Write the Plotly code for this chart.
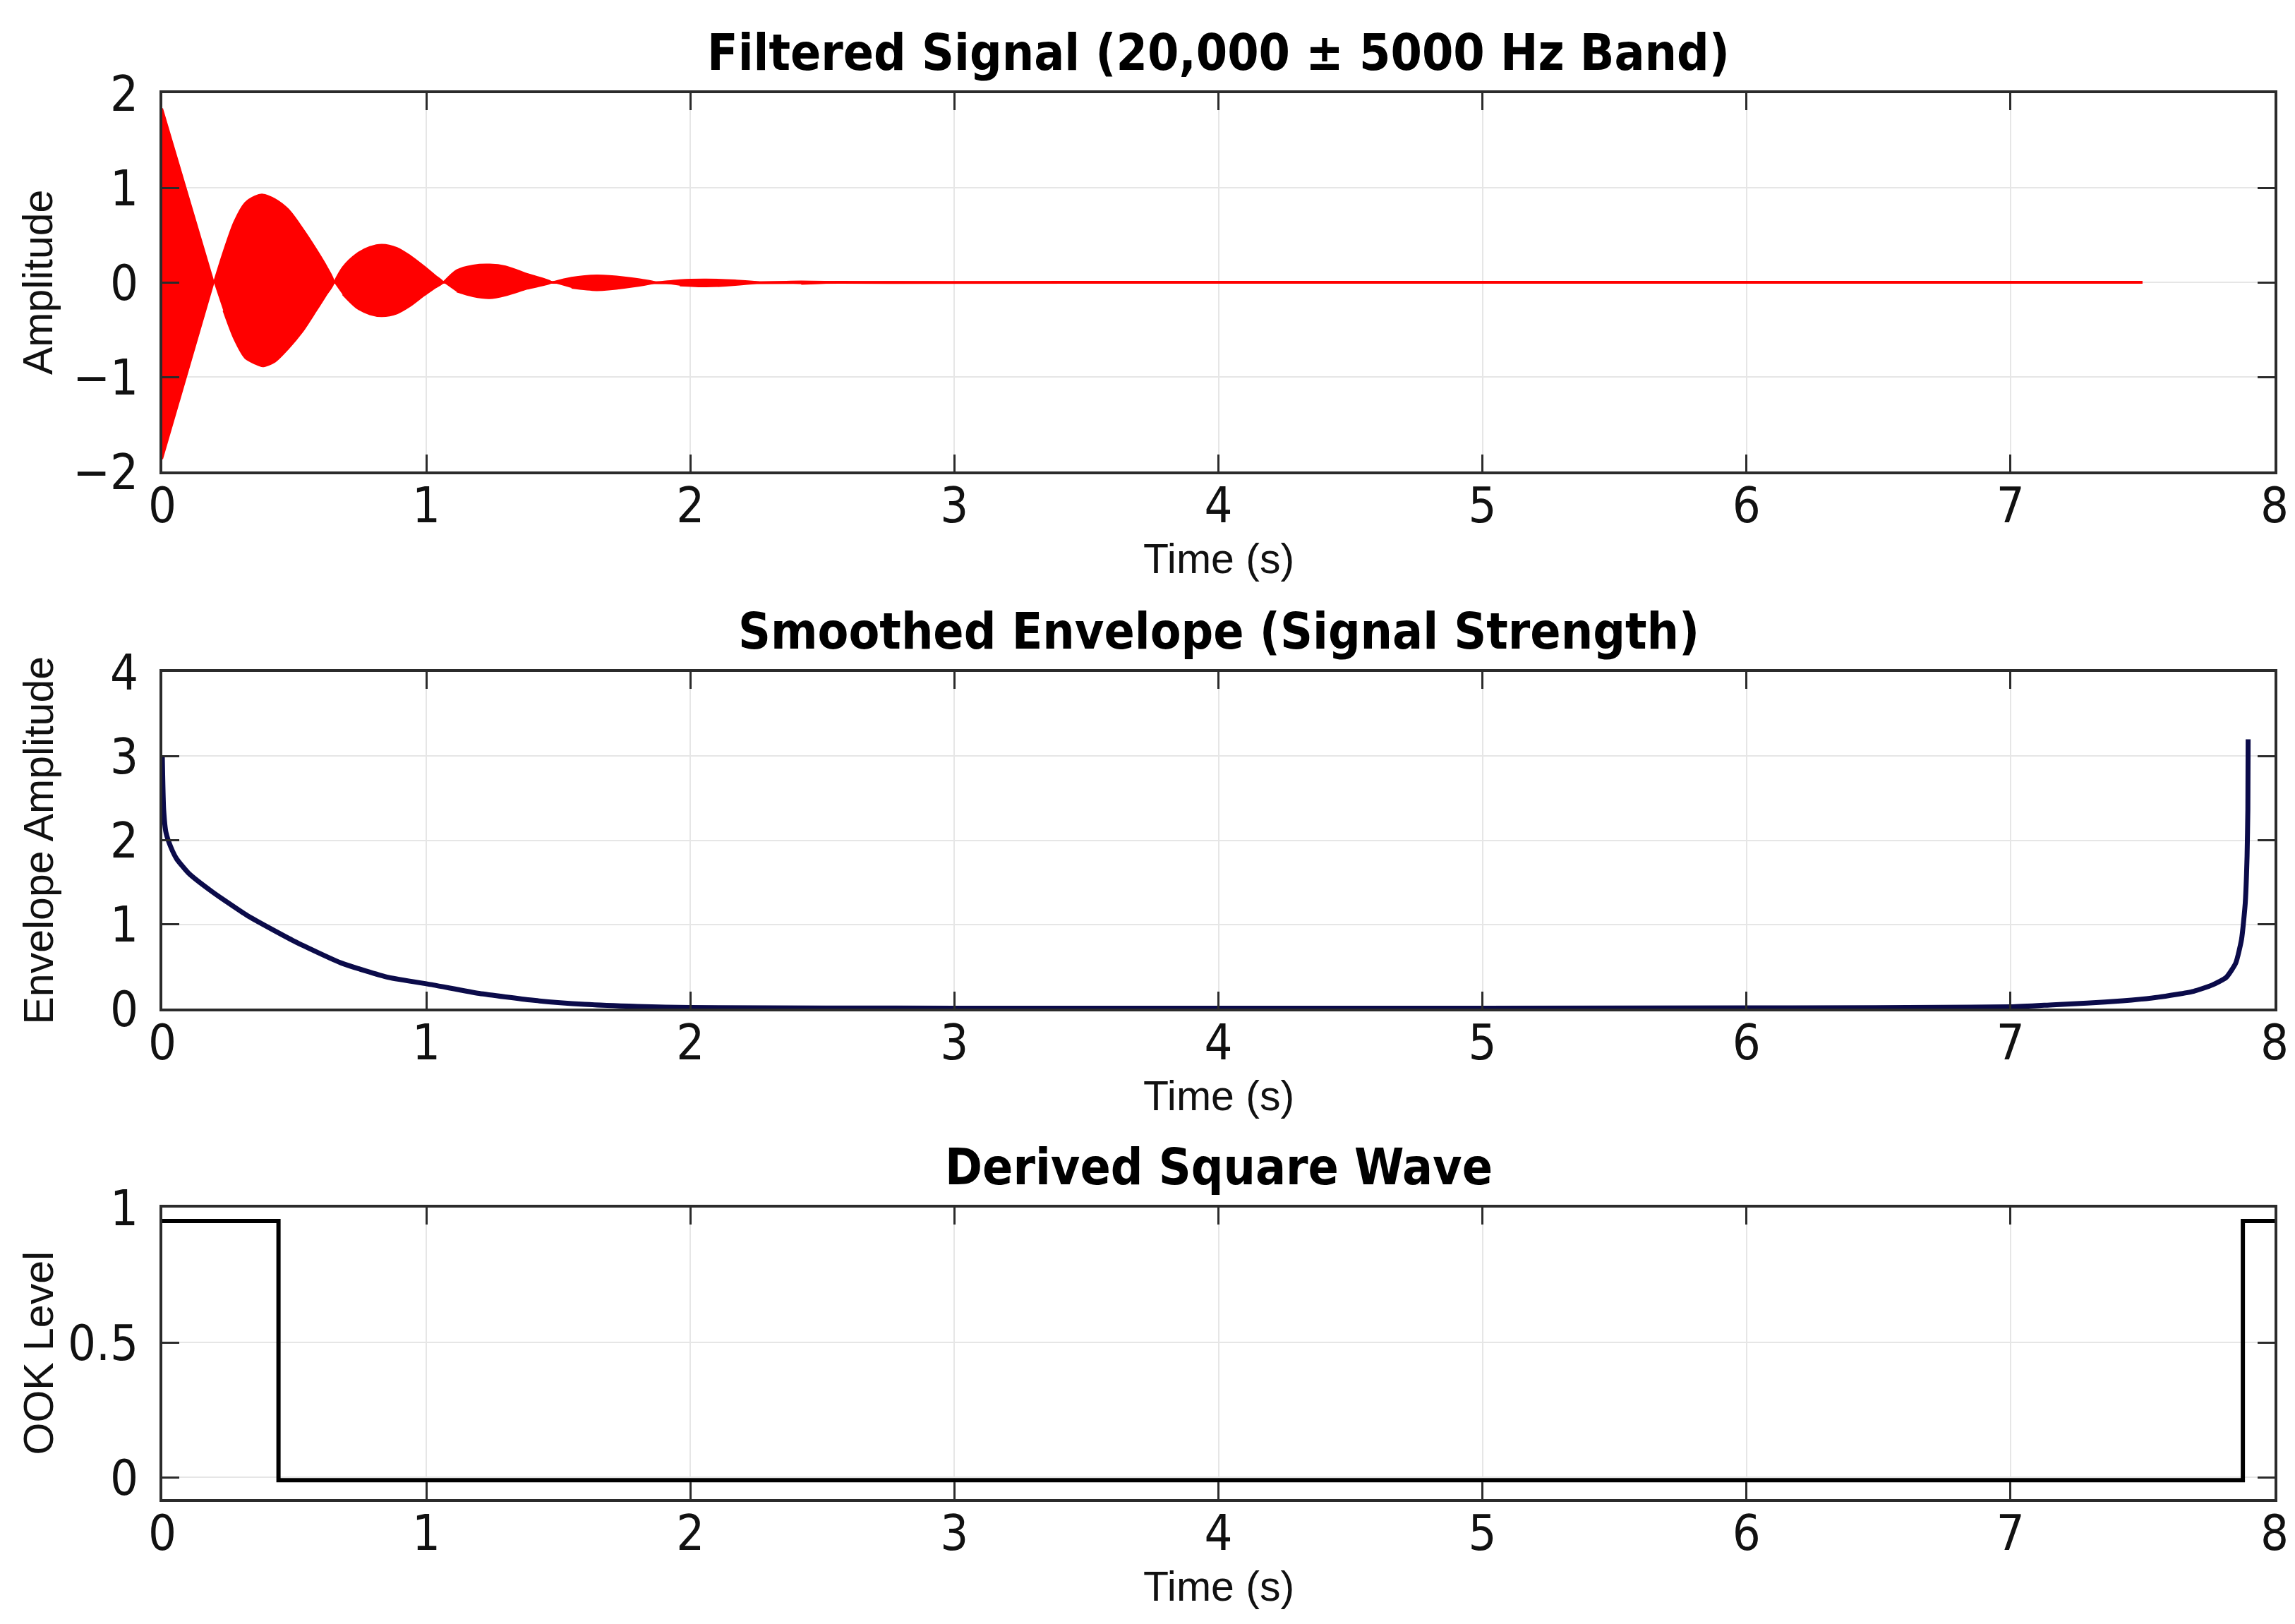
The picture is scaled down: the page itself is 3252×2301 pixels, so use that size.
import plotly.graph_objects as go

# filtered signal: beat envelope (upper / lower edge of the red band)
sig_t = [0, 0.195, 0.231, 0.272, 0.313, 0.35, 0.38, 0.427, 0.478, 0.529, 0.581, 0.622, 0.65,
         0.683, 0.735, 0.786, 0.832, 0.889, 0.94, 0.992, 1.033, 1.064,
         1.115, 1.177, 1.24, 1.30, 1.382, 1.475,
         1.55, 1.645, 1.75, 1.87, 1.96, 2.06, 2.17, 2.27, 2.42, 2.57, 2.75, 3.0,
         4.0, 5.0, 6.0, 7.0, 7.5]
sig_upper = [1.84, 0.0, 0.32, 0.64, 0.84, 0.91, 0.93, 0.88, 0.77, 0.58, 0.36, 0.17, 0.0,
             0.16, 0.30, 0.375, 0.40, 0.365, 0.28, 0.17, 0.075, 0.0,
             0.13, 0.18, 0.19, 0.17, 0.09, 0.0,
             0.05, 0.075, 0.055, 0.0, 0.025, 0.032, 0.022, 0.0, 0.012, 0.0, 0.005, 0.0,
             0.0, 0.0, 0.0, 0.0, 0.0]
sig_lower = [-1.87, 0.0, -0.30, -0.60, -0.80, -0.86, -0.89, -0.84, -0.70, -0.53, -0.31, -0.13, 0.0,
             -0.13, -0.27, -0.34, -0.36, -0.33, -0.25, -0.14, -0.06, 0.0,
             -0.10, -0.15, -0.17, -0.14, -0.07, 0.0,
             -0.06, -0.085, -0.06, 0.0, -0.035, -0.045, -0.03, 0.0, -0.018, 0.0, -0.008, 0.0,
             0.0, 0.0, 0.0, 0.0, 0.0]

# smoothed envelope
env_t = [0, 0.005, 0.014, 0.032, 0.054, 0.099, 0.188, 0.322, 0.50, 0.679, 0.857, 1.027,
         1.2, 1.4, 1.6, 1.8, 2.0, 3.0, 4.0, 5.0, 6.0, 7.0, 7.16, 7.29, 7.425, 7.56,
         7.693, 7.764, 7.817, 7.853, 7.875, 7.889, 7.896, 7.899, 7.90]
env_y = [3.0, 2.37, 2.09, 1.92, 1.78, 1.61, 1.39, 1.105, 0.80, 0.54, 0.37, 0.28,
         0.18, 0.10, 0.05, 0.025, 0.012, 0.005, 0.004, 0.005, 0.008, 0.02, 0.045, 0.065, 0.093, 0.135,
         0.205, 0.28, 0.37, 0.54, 0.82, 1.25, 1.81, 2.37, 3.20]

# derived square wave (step after each point)
sq_t = [0, 0.44, 7.88, 8.0]
sq_y = [0.95, -0.01, 0.95, 0.95]

titles = ["Filtered Signal (20,000 \u00b1 5000 Hz Band)",
          "Smoothed Envelope (Signal Strength)",
          "Derived Square Wave"]
ylabels = ["Amplitude", "Envelope Amplitude", "OOK Level"]

W, H = 3252, 2301
xdom = [222 / W, 3215 / W]
ydoms = [[1 - 660 / H, 1 - 124 / H],
         [1 - 1421 / H, 1 - 944 / H],
         [1 - 2116 / H, 1 - 1703 / H]]

narrow = "DejaVu Sans Condensed, Liberation Sans Narrow, sans-serif"
regular = "Liberation Sans, Arial, sans-serif"
RED = "#ff0000"

fig = go.Figure()

# red band: one closed shape per beat lobe, split at the points where the band pinches to zero
zeros = [i for i in range(len(sig_t)) if sig_upper[i] == 0 and sig_lower[i] == 0]
start = 0
for z in zeros:
    if any(sig_upper[k] != 0 or sig_lower[k] != 0 for k in range(start, z + 1)):
        up_idx = list(range(start, z + 1))
        lo_idx = list(range(z - 1, start, -1))
        if sig_upper[start] != sig_lower[start]:
            lo_idx.append(start)
        xs = [sig_t[k] for k in up_idx] + [sig_t[k] for k in lo_idx]
        ys = [sig_upper[k] for k in up_idx] + [sig_lower[k] for k in lo_idx]
        shape = "linear" if start == 0 else "spline"
        fig.add_trace(go.Scatter(x=xs, y=ys, mode="lines", fill="toself", fillcolor=RED,
                                 line=dict(color=RED, width=2, shape=shape, smoothing=0.8),
                                 xaxis="x", yaxis="y", showlegend=False, hoverinfo="skip"))
    start = z

fig.add_trace(go.Scatter(x=sig_t, y=[(u + l) / 2 for u, l in zip(sig_upper, sig_lower)],
                         mode="lines", line=dict(color=RED, width=4),
                         xaxis="x", yaxis="y", showlegend=False))
fig.add_trace(go.Scatter(x=env_t, y=env_y, mode="lines",
                         line=dict(color="#0b0b4a", width=7, shape="spline", smoothing=0.5),
                         xaxis="x2", yaxis="y2", showlegend=False))
fig.add_trace(go.Scatter(x=sq_t, y=sq_y, mode="lines", line_shape="hv",
                         line=dict(color="#000000", width=6),
                         xaxis="x3", yaxis="y3", showlegend=False))

axis_style = dict(showline=True, linecolor="#2b2b2b", linewidth=4, mirror="ticks",
                  ticks="inside", ticklen=24, tickwidth=3, tickcolor="#2b2b2b",
                  showgrid=True, gridcolor="#e6e6e6", gridwidth=2, zeroline=False,
                  automargin=False,
                  tickfont=dict(family=narrow, size=70, color="#111111"))

yranges = [[-2, 2], [0, 4], [-0.08, 1]]
yticks = [[-2, -1, 0, 1, 2], [0, 1, 2, 3, 4], [0, 0.5, 1]]

layout = dict(width=W, height=H, margin=dict(l=0, r=0, t=0, b=0, autoexpand=False),
              paper_bgcolor="white", plot_bgcolor="white", annotations=[])
for i in range(3):
    sx = "" if i == 0 else str(i + 1)
    layout["xaxis" + sx] = dict(axis_style, domain=xdom, range=[0, 8], dtick=1,
                                anchor="y" + sx, ticklabelstandoff=-16)
    layout["yaxis" + sx] = dict(axis_style, domain=ydoms[i], range=yranges[i],
                                tickvals=yticks[i], anchor="x" + sx, ticklabelstandoff=16)
    layout["annotations"].append(dict(
        text="<b>" + titles[i] + "</b>", xref="paper", yref="paper",
        x=(xdom[0] + xdom[1]) / 2, y=ydoms[i][1], xanchor="center", yanchor="bottom",
        yshift=14, showarrow=False, font=dict(family=narrow, size=71, color="#000000")))
    layout["annotations"].append(dict(
        text="Time (s)", xref="paper", yref="paper",
        x=(xdom[0] + xdom[1]) / 2, y=ydoms[i][0], xanchor="center", yanchor="middle",
        yshift=-124, showarrow=False, font=dict(family=regular, size=59, color="#111111")))
    layout["annotations"].append(dict(
        text=ylabels[i], xref="paper", yref="paper", textangle=-90,
        x=46 / W, y=(ydoms[i][0] + ydoms[i][1]) / 2, xanchor="center", yanchor="middle",
        showarrow=False, font=dict(family=regular, size=59, color="#111111")))

fig.update_layout(layout)
fig.write_html("out.html")
